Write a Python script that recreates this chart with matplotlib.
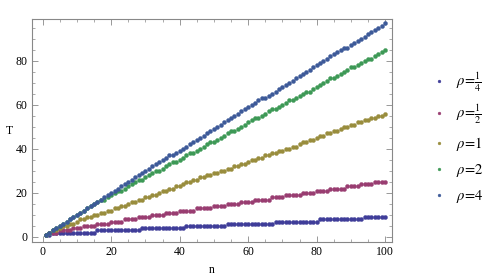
import matplotlib
matplotlib.use('Agg')
import matplotlib.pyplot as plt
import numpy as np
from matplotlib.ticker import MultipleLocator

plt.rcParams['font.family'] = 'Liberation Serif'
plt.rcParams['mathtext.fontset'] = 'stix'

n = np.arange(1, 101)

# T values, one list per rho
t_quarter = [1, 1] + [2]*13 + [3]*13 + [4]*13 + [5]*12 + [6]*14 + [7]*13 + [8]*13 + [9]*7
t_half = ([1] + [2]*3 + [3]*4 + [4]*3 + [5]*4 + [6]*4 + [7]*4 + [8]*4 + [9]*4 + [10]*4
          + [11]*4 + [12]*5 + [13]*5 + [14]*4 + [15]*4 + [16]*4 + [17]*5 + [18]*4 + [19]*5
          + [20]*4 + [21]*4 + [22]*5 + [23]*4 + [24]*4 + [25]*4)
t_one = [1, 2, 3, 3, 4, 5, 5, 6, 6, 7, 8, 8, 9, 9, 10, 10, 11, 11, 12, 12,
         13, 13, 14, 14, 15, 16, 16, 17, 17, 18, 18, 19, 19, 20, 21, 21, 22, 22, 23, 23,
         24, 25, 25, 26, 26, 27, 27, 28, 28, 29, 29, 30, 30, 31, 31, 32, 32, 33, 33, 34,
         35, 35, 36, 36, 37, 37, 38, 38, 39, 39, 40, 40, 41, 41, 42, 43, 43, 44, 44, 45,
         46, 46, 47, 47, 48, 48, 49, 50, 50, 51, 51, 52, 52, 53, 53, 54, 54, 55, 55, 56]
t_two = [1, 2, 3, 4, 5, 6, 7, 8, 9, 10, 11, 12, 13, 14, 15, 16, 17, 17, 18, 19,
         20, 21, 21, 22, 23, 24, 25, 26, 26, 27, 28, 29, 30, 30, 31, 32, 33, 34, 34, 35,
         36, 37, 38, 38, 39, 40, 41, 42, 43, 43, 44, 45, 46, 47, 48, 48, 49, 50, 51, 52,
         53, 54, 54, 55, 56, 57, 58, 58, 59, 60, 61, 62, 62, 63, 64, 65, 66, 66, 67, 68,
         69, 70, 71, 72, 72, 73, 74, 75, 76, 77, 77, 78, 79, 80, 81, 81, 82, 83, 84, 85]
t_four = (list(range(1, 38)) + [37] + list(range(38, 64)) + [63]
          + list(range(64, 87)) + [86] + list(range(87, 98)))

series = [t_quarter, t_half, t_one, t_two, t_four]
labels = [r'$\rho\!=\!\frac{1}{4}$', r'$\rho\!=\!\frac{1}{2}$', r'$\rho\!=\!1$',
          r'$\rho\!=\!2$', r'$\rho\!=\!4$']
colors = ['#3f3d99', '#993d71', '#998d3d', '#3d9956', '#3d5a99']

fig = plt.figure(figsize=(4.83, 2.78), dpi=100)
ax = fig.add_axes([32/483, 36/278, 360/483, 223/278])

for y, lab, c in zip(series, labels, colors):
    ax.plot(n, y, 'o', ms=2.9, color=c, mec=c, mew=0.3, label=lab)

ax.set_xlim(-3.1, 102)
ax.set_ylim(-2.3, 99)
ax.xaxis.set_major_locator(MultipleLocator(20))
ax.xaxis.set_minor_locator(MultipleLocator(5))
ax.yaxis.set_major_locator(MultipleLocator(20))
ax.yaxis.set_minor_locator(MultipleLocator(5))
ax.tick_params(which='both', direction='in', top=True, right=True, color='#888888',
               labelsize=8.5, pad=3)
ax.tick_params(which='major', length=4, width=0.6)
ax.tick_params(which='minor', length=2, width=0.5)
ax.tick_params(top=True, right=True, labeltop=False, labelright=False)
for s in ax.spines.values():
    s.set_color('#888888')
    s.set_linewidth(0.8)

ax.set_xlabel('n', fontsize=8.5, labelpad=4)
ax.set_ylabel('T', fontsize=8.5, rotation=0, labelpad=5, va='center')

leg = fig.legend(loc='center left', bbox_to_anchor=(421/483, 0.505), frameon=False,
                 handlelength=0.6, handletextpad=0.9, labelspacing=0.62, fontsize=10.5,
                 markerscale=0.7)

fig.savefig('out.png', dpi=100)
